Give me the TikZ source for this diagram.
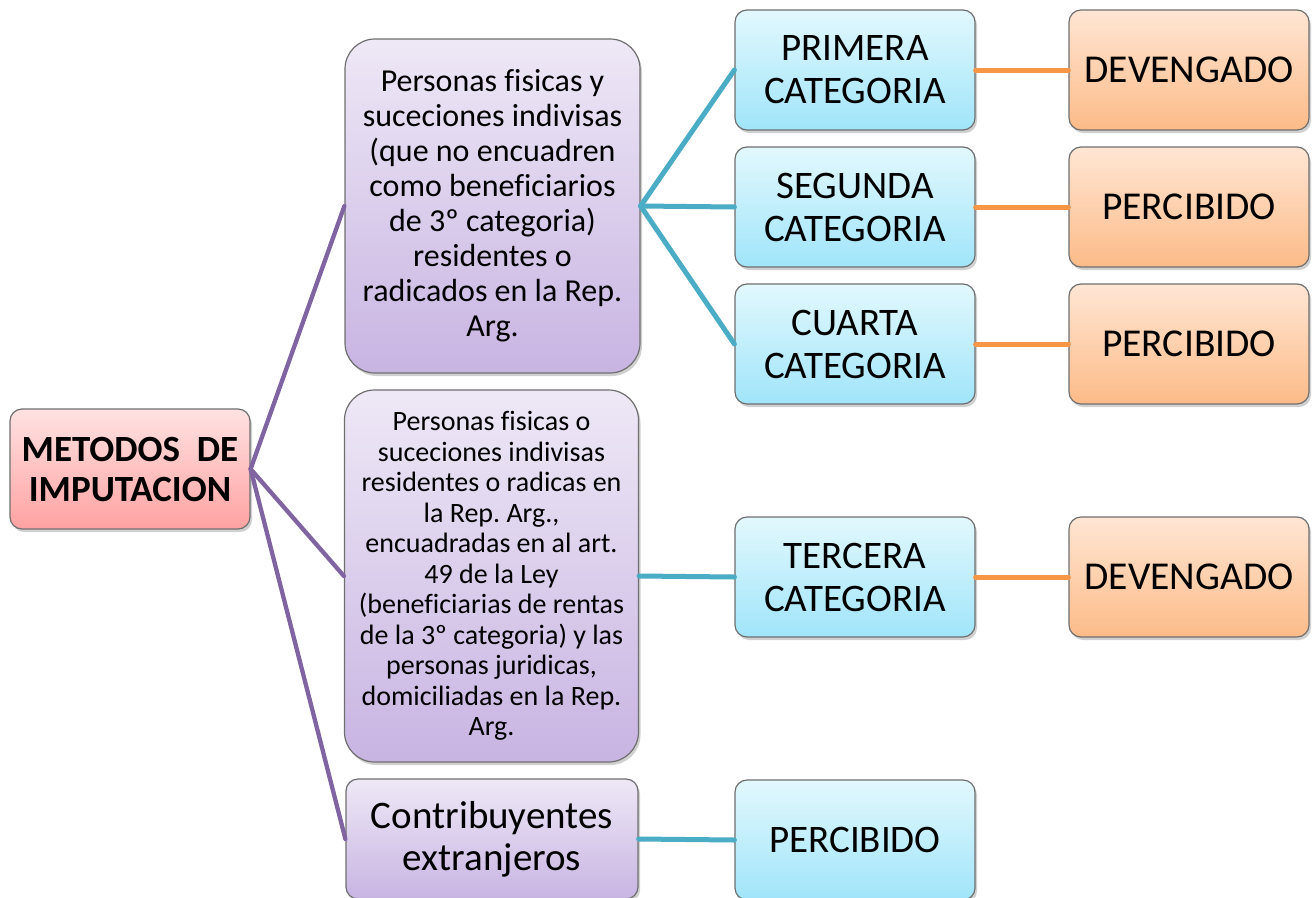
\documentclass[tikz,border=0pt]{standalone}
\usepackage{fontspec}
\setmainfont{Carlito}[Ligatures=NoCommon]
\frenchspacing
\usetikzlibrary{shadows}
\definecolor{linepurple}{HTML}{8064A2}
\definecolor{lineaqua}{HTML}{4BACC6}
\definecolor{lineorange}{HTML}{F79646}
\definecolor{boxborder}{HTML}{6F6F6F}
\definecolor{pinktop}{HTML}{FFE2E2}
\definecolor{pinkbot}{HTML}{FFA2A2}
\definecolor{purtop}{HTML}{EEE8F6}
\definecolor{purbot}{HTML}{C8B4E2}
\definecolor{bluetop}{HTML}{E2F8FD}
\definecolor{bluebot}{HTML}{A0E5FA}
\definecolor{oratop}{HTML}{FFE6D4}
\definecolor{orabot}{HTML}{FCBB88}
\tikzset{
  basebox/.style={draw=boxborder, line width=1.2pt, inner sep=0pt, align=center, text=black,
    drop shadow={shadow xshift=2pt, shadow yshift=-3pt, opacity=0.3, fill=black!60}},
  rootbox/.style={basebox, rounded corners=12pt, top color=pinktop, bottom color=pinkbot,
    minimum width=240pt, minimum height=120pt, font=\fontsize{37}{40}\selectfont\bfseries},
  purbox/.style={basebox, top color=purtop, bottom color=purbot},
  bluebox/.style={basebox, rounded corners=12pt, top color=bluetop, bottom color=bluebot,
    minimum width=240pt, minimum height=120pt, font=\fontsize{39}{43}\selectfont},
  orabox/.style={basebox, rounded corners=12pt, top color=oratop, bottom color=orabot,
    minimum width=240pt, minimum height=120pt, font=\fontsize{39.5}{43}\selectfont},
  plink/.style={draw=linepurple, line width=4.3pt},
  blink/.style={draw=lineaqua, line width=5pt},
  olink/.style={draw=lineorange, line width=5pt}
}
\begin{document}
\begin{tikzpicture}[x=1pt,y=-1pt]
\useasboundingbox[fill=white] (0,0) rectangle (1316,897);
\node[rootbox] (root) at (130,469) {METODOS\ \ DE\\IMPUTACION};
\node[purbox, rounded corners=30pt, minimum width=295pt, minimum height=334pt,
  font=\fontsize{32}{35}\selectfont] (p1) at (492.5,206)
  {Personas fisicas y\\suceciones indivisas\\(que no encuadren\\como beneficiarios\\de 3º categoria)\\residentes o\\radicados en la Rep.\\Arg.};
\node[purbox, rounded corners=30pt, minimum width=294pt, minimum height=372pt,
  font=\fontsize{28}{30.5}\selectfont] (p2) at (491.5,576)
  {Personas fisicas o\\suceciones indivisas\\residentes o radicas en\\la Rep. Arg.,\\encuadradas en al art.\\49 de la Ley\\(beneficiarias de rentas\\de la 3º categoria) y las\\personas juridicas,\\domiciliadas en la Rep.\\Arg.};
\node[purbox, rounded corners=12pt, minimum width=292pt, minimum height=120pt,
  font=\fontsize{39}{42}\selectfont] (p3) at (492,839)
  {Contribuyentes\\extranjeros};
\node[bluebox] (b1) at (855,70) {PRIMERA\\CATEGORIA};
\node[bluebox] (b2) at (855,207) {SEGUNDA\\CATEGORIA};
\node[bluebox] (b4) at (855,344) {CUARTA\\CATEGORIA};
\node[bluebox] (b3) at (855,577) {TERCERA\\CATEGORIA};
\node[bluebox] (b5) at (855,840) {PERCIBIDO};
\node[orabox] (o1) at (1189,70) {DEVENGADO};
\node[orabox] (o2) at (1189,207) {PERCIBIDO};
\node[orabox] (o4) at (1189,344) {PERCIBIDO};
\node[orabox] (o3) at (1189,577) {DEVENGADO};
\begin{scope}[line cap=round]
\draw[plink] (root.east) -- (p1.west);
\draw[plink] (root.east) -- (p2.west);
\draw[plink] (root.east) -- (p3.west);
\draw[blink] (p1.east) -- (b1.west);
\draw[blink] (p1.east) -- (b2.west);
\draw[blink] (p1.east) -- (b4.west);
\draw[blink] (p2.east) -- (b3.west);
\draw[blink] (p3.east) -- (b5.west);
\draw[olink] (b1.east) -- (o1.west);
\draw[olink] (b2.east) -- (o2.west);
\draw[olink] (b4.east) -- (o4.west);
\draw[olink] (b3.east) -- (o3.west);
\end{scope}
\end{tikzpicture}
\end{document}
